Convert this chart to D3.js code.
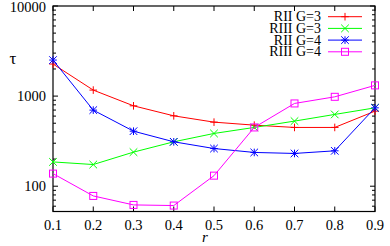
<!DOCTYPE html>
<html><head><meta charset="utf-8">
<script src="https://cdn.jsdelivr.net/npm/d3@7"></script>
<style>body{margin:0;background:#fff}svg{display:block}text{font-family:"Liberation Serif","DejaVu Serif",serif}</style>
</head><body><svg id="c" width="390" height="246"></svg>
<script>
const rValues = [0.1,0.2,0.3,0.4,0.5,0.6,0.7,0.8,0.9];
const seriesNames = ["RII G=3","RIII G=3","RII G=4","RIII G=4"];
const rii3  = [2270,1166,780,604,514,476,449,449,681];
const riii3 = [186,174,239,311,385,449,528,626,741];
const rii4  = [2512,699,408,311,262,237,231,247,741];
const riii4 = [138,78,62,61,131,449,829,982,1315];
const xTicks = [0.1,0.2,0.3,0.4,0.5,0.6,0.7,0.8,0.9];
const yTicks = [100,1000,10000];
const yMin = 52.4, yMax = 10000;

const colors = ["#ff0000","#00ff00","#0000ff","#ff00ff"];
const markers = ["plus","cross","star","square"];
const data = [rii3,riii3,rii4,riii4];

const svg = d3.select("#c");
const L=53, R=375, T=6, B=211.5;
const x = d3.scaleLinear().domain([0.1,0.9]).range([L,R]);
const y = d3.scaleLog().domain([yMin,yMax]).range([B,T]);

const minor=[];
for(let k=1;k<4;k++) for(let m=2;m<=9;m++){const v=m*Math.pow(10,k); if(v>=yMin&&v<=yMax) minor.push(v);}
const g = svg.append("g");
minor.forEach(v=>{
  g.append("line").attr("x1",L).attr("x2",L+3).attr("y1",y(v)).attr("y2",y(v)).attr("stroke","#000").attr("stroke-width",1);
  g.append("line").attr("x1",R).attr("x2",R-3).attr("y1",y(v)).attr("y2",y(v)).attr("stroke","#000").attr("stroke-width",1);
});
yTicks.forEach(v=>{
  g.append("line").attr("x1",L).attr("x2",L+5).attr("y1",y(v)).attr("y2",y(v)).attr("stroke","#000");
  g.append("line").attr("x1",R).attr("x2",R-5).attr("y1",y(v)).attr("y2",y(v)).attr("stroke","#000");
  g.append("text").attr("x",L-7).attr("y",Math.max(y(v)+5,12)).attr("text-anchor","end").attr("font-size",14.5).text(v);
});
xTicks.forEach(v=>{
  g.append("line").attr("x1",x(v)).attr("x2",x(v)).attr("y1",B).attr("y2",B-5).attr("stroke","#000");
  g.append("line").attr("x1",x(v)).attr("x2",x(v)).attr("y1",T).attr("y2",T+5).attr("stroke","#000");
  g.append("text").attr("x",x(v)).attr("y",B+18).attr("text-anchor","middle").attr("font-size",14.5).text(v.toFixed(1));
});
g.append("rect").attr("x",L).attr("y",T).attr("width",R-L).attr("height",B-T).attr("fill","none").attr("stroke","#000").attr("stroke-width",1.2);

svg.append("text").attr("x",13).attr("y",64).attr("text-anchor","middle").attr("font-size",17).text("τ");
svg.append("text").attr("x",205).attr("y",242).attr("text-anchor","middle").attr("font-size",15).attr("font-style","italic").text("r");

function marker(sel,type,cx,cy,col){
  const s=3.8;
  if(type==="plus"||type==="star"){
    sel.append("line").attr("x1",cx-s).attr("x2",cx+s).attr("y1",cy).attr("y2",cy).attr("stroke",col);
    sel.append("line").attr("x1",cx).attr("x2",cx).attr("y1",cy-s).attr("y2",cy+s).attr("stroke",col);
  }
  if(type==="cross"||type==="star"){
    sel.append("line").attr("x1",cx-s).attr("x2",cx+s).attr("y1",cy-s).attr("y2",cy+s).attr("stroke",col);
    sel.append("line").attr("x1",cx-s).attr("x2",cx+s).attr("y1",cy+s).attr("y2",cy-s).attr("stroke",col);
  }
  if(type==="square"){
    sel.append("rect").attr("x",cx-3.5).attr("y",cy-3.5).attr("width",7).attr("height",7).attr("fill","none").attr("stroke",col);
  }
}

const line = d3.line().x((d,i)=>x(rValues[i])).y(d=>y(d));
data.forEach((arr,si)=>{
  const gs=svg.append("g");
  gs.append("path").attr("d",line(arr)).attr("fill","none").attr("stroke",colors[si]).attr("stroke-width",1);
  arr.forEach((v,i)=>marker(gs,markers[si],x(rValues[i]),y(v),colors[si]));
});

const lg = svg.append("g");
seriesNames.forEach((n,i)=>{
  const yy = 16.7 + i*11.7;
  lg.append("text").attr("x",321).attr("y",yy+4.5).attr("text-anchor","end").attr("font-size",14).text(n);
  lg.append("line").attr("x1",328).attr("x2",362).attr("y1",yy).attr("y2",yy).attr("stroke",colors[i]);
  marker(lg,markers[i],345,yy,colors[i]);
});
</script></body></html>
